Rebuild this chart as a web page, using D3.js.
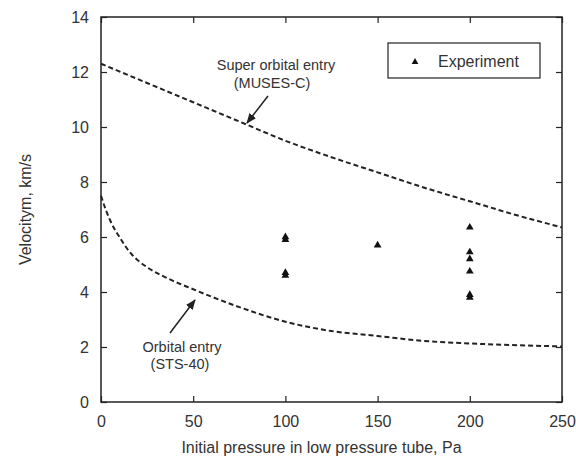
<!DOCTYPE html>
<html lang="en">
  <head>
    <meta charset="UTF-8" />
    <title>Velocity vs initial pressure</title>
    <script src="https://d3js.org/d3.v7.min.js"></script>
    <style>
      body { margin: 0; background: #fff; }
      text { font-family: "Liberation Sans", Arial, sans-serif; fill: #333; }
      .curve { fill: none; stroke: #222; stroke-width: 2; stroke-dasharray: 5,3; }
    </style>
  </head>
  <body>
    <svg width="576" height="461"></svg>
<script>
// experiment points
var expPressure = [100, 100, 100, 100, 150, 200, 200, 200, 200, 200, 200];
var expVelocity = [6.0, 5.9, 4.7, 4.6, 5.7, 6.35, 5.45, 5.2, 4.75, 3.9, 3.8];

// super orbital entry (MUSES-C)
var superP = [0, 25, 50, 75, 100, 125, 150, 175, 200, 225, 250];
var superV = [12.3, 11.6, 10.9, 10.2, 9.5, 8.9, 8.35, 7.8, 7.3, 6.8, 6.35];

// orbital entry (STS-40)
var orbP = [0, 2, 5, 7.5, 10, 15, 20, 25, 36, 50, 75, 100, 125, 150, 175, 200, 250];
var orbV = [7.5, 7.1, 6.6, 6.27, 6.0, 5.5, 5.15, 4.9, 4.5, 4.1, 3.45, 2.92, 2.58, 2.4, 2.22, 2.13, 2.02];

var xTicks = [0, 50, 100, 150, 200, 250];
var yTicks = [0, 2, 4, 6, 8, 10, 12, 14];

var svg = d3.select("svg"),
    pLeft = 101, pRight = 562, pTop = 17, pBottom = 402;

var x = d3.scaleLinear().domain([0, 250]).range([pLeft, pRight]);
var y = d3.scaleLinear().domain([0, 14]).range([pBottom, pTop]);

// frame
svg.append("rect")
   .attr("x", pLeft).attr("y", pTop)
   .attr("width", pRight - pLeft).attr("height", pBottom - pTop)
   .attr("fill", "none").attr("stroke", "#222").attr("stroke-width", 1.5);

// axes with inward ticks
function styleAxis(g) {
  g.select(".domain").remove();
  g.selectAll(".tick line").attr("stroke", "#222").attr("stroke-width", 1.2);
  g.selectAll(".tick text").style("font-size", "16px").attr("fill", "#333");
}

svg.append("g")
   .attr("transform", "translate(0," + pBottom + ")")
   .call(d3.axisBottom(x).tickValues(xTicks).tickSize(-6).tickPadding(14))
   .call(styleAxis);

svg.append("g")
   .attr("transform", "translate(0," + pTop + ")")
   .call(d3.axisTop(x).tickValues(xTicks).tickSize(-6).tickFormat(""))
   .call(styleAxis);

svg.append("g")
   .attr("transform", "translate(" + pLeft + ",0)")
   .call(d3.axisLeft(y).tickValues(yTicks).tickSize(-6).tickPadding(12))
   .call(styleAxis);

svg.append("g")
   .attr("transform", "translate(" + pRight + ",0)")
   .call(d3.axisRight(y).tickValues(yTicks).tickSize(-6).tickFormat(""))
   .call(styleAxis);

// axis titles
svg.append("text")
   .attr("x", (pLeft + pRight) / 2 - 10).attr("y", 453)
   .attr("text-anchor", "middle")
   .style("font-size", "16px")
   .text("Initial pressure in low pressure tube, Pa");

svg.append("text")
   .attr("transform", "translate(31," + ((pTop + pBottom) / 2) + ") rotate(-90)")
   .attr("text-anchor", "middle")
   .style("font-size", "16px")
   .text("Velocitym, km/s");

// curves
var line = d3.line().curve(d3.curveMonotoneX);

svg.append("path")
   .attr("class", "curve")
   .attr("d", line(superP.map(function(p, i) { return [x(p), y(superV[i])]; })));

svg.append("path")
   .attr("class", "curve")
   .attr("d", line(orbP.map(function(p, i) { return [x(p), y(orbV[i])]; })));

// experiment triangles
var tri = d3.symbol().type(d3.symbolTriangle).size(26);
svg.selectAll(".pt")
   .data(expPressure)
   .enter().append("path")
   .attr("class", "pt")
   .attr("d", tri)
   .attr("fill", "#111")
   .attr("transform", function(d, i) { return "translate(" + x(d) + "," + y(expVelocity[i]) + ")"; });

// legend
svg.append("rect")
   .attr("x", 388).attr("y", 43).attr("width", 152).attr("height", 35)
   .attr("fill", "#fff").attr("stroke", "#222").attr("stroke-width", 1.2);
svg.append("path")
   .attr("d", d3.symbol().type(d3.symbolTriangle).size(20))
   .attr("fill", "#111")
   .attr("transform", "translate(415,62)");
svg.append("text")
   .attr("x", 438).attr("y", 67)
   .style("font-size", "16px")
   .text("Experiment");

// annotations
svg.append("defs").append("marker")
   .attr("id", "arr")
   .attr("viewBox", "0 0 10 10")
   .attr("refX", 9).attr("refY", 5)
   .attr("markerWidth", 7).attr("markerHeight", 7)
   .attr("orient", "auto")
   .append("path").attr("d", "M0,1L10,5L0,9z").attr("fill", "#222");

svg.append("text").attr("x", 276).attr("y", 70).attr("text-anchor", "middle")
   .style("font-size", "14.5px").text("Super orbital entry");
svg.append("text").attr("x", 272).attr("y", 88).attr("text-anchor", "middle")
   .style("font-size", "14.5px").text("(MUSES-C)");
svg.append("line")
   .attr("x1", 268).attr("y1", 96).attr("x2", 247).attr("y2", 123)
   .attr("stroke", "#222").attr("stroke-width", 1.5).attr("marker-end", "url(#arr)");

svg.append("text").attr("x", 182).attr("y", 352).attr("text-anchor", "middle")
   .style("font-size", "14.5px").text("Orbital entry");
svg.append("text").attr("x", 180).attr("y", 369).attr("text-anchor", "middle")
   .style("font-size", "14.5px").text("(STS-40)");
svg.append("line")
   .attr("x1", 170).attr("y1", 333).attr("x2", 195).attr("y2", 300)
   .attr("stroke", "#222").attr("stroke-width", 1.5).attr("marker-end", "url(#arr)");
</script>
  </body>
</html>
